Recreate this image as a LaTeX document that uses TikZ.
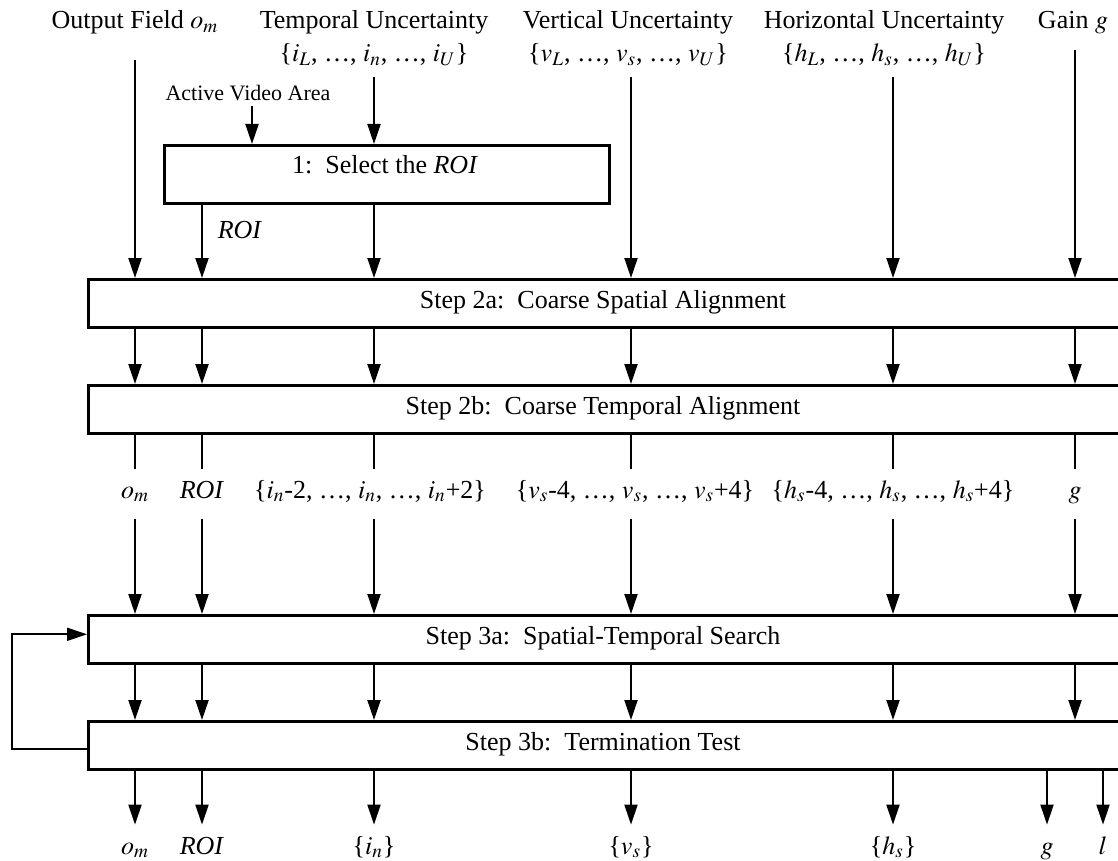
\documentclass[tikz,border=0pt]{standalone}
\usepackage{mathptmx}
\usepackage{fontspec}
\setmainfont{Liberation Serif}
\usetikzlibrary{arrows.meta}
\begin{document}
\begin{tikzpicture}[x=0.5pt,y=-0.5pt]
\tikzset{stepbox/.style={draw,line width=1.3pt,inner sep=0,anchor=north west}}
\tikzset{pfeil/.style={line width=1pt,-{Triangle[length=10pt,width=6.5pt]}}}
\tikzset{linie/.style={line width=1pt}}
\tikzset{txt/.style={font=\fontsize{13}{15}\selectfont,inner sep=0}}
\tikzset{toplbl/.style={txt,anchor=base}}
\tikzset{midlbl/.style={txt,anchor=base,text height=14.5pt,text depth=10.5pt}}
\tikzset{botlbl/.style={txt,anchor=base,text height=14.5pt}}
\clip (0,0) rectangle (1118,861);
% columns
\coordinate (cO) at (135,0);
\coordinate (cR) at (202,0);
\coordinate (cI) at (374,0);
\coordinate (cV) at (631,0);
\coordinate (cH) at (893,0);
\coordinate (cG) at (1075,0);
\coordinate (cA) at (252,0);
\coordinate (fb) at (12,0);
% inputs
\node [toplbl] (tO) at (135,29) {Output Field $o_m$};
\node [toplbl] (tI) at (374,29) {Temporal Uncertainty};
\node [toplbl] (tIset) at (374,62) {\{$i_L$, \ldots, $i_n$, \ldots, $i_U$\}};
\node [toplbl] (tV) at (628,29) {Vertical Uncertainty};
\node [toplbl] (tVset) at (628,62) {\{$v_L$, \ldots, $v_s$, \ldots, $v_U$\}};
\node [toplbl] (tH) at (884,29) {Horizontal Uncertainty};
\node [toplbl] (tHset) at (884,62) {\{$h_L$, \ldots, $h_s$, \ldots, $h_U$\}};
\node [toplbl] (tG) at (1073,29) {Gain $g$};
\node [font=\fontsize{11}{13}\selectfont,inner sep=0,anchor=base] (ava) at (248,101) {Active Video Area};
\coordinate (sO) at (135,60);
\coordinate (sI) at (374,77);
\coordinate (sV) at (631,77);
\coordinate (sH) at (893,77);
\coordinate (sG) at (1075,50);
% boxes
\node [stepbox,minimum width=222.5pt,minimum height=29pt] (s1) at (163,144) {};
\node [txt] (t1) at (385,165) {1:~~Select the \textit{ROI}};
\node [stepbox,minimum width=530pt,minimum height=24pt] (s2a) at (87,278) {};
\node [txt] (t2a) at (603,302) {Step 2a:~~Coarse Spatial Alignment};
\node [stepbox,minimum width=530pt,minimum height=24pt] (s2b) at (87,384) {};
\node [txt] (t2b) at (603,408) {Step 2b:~~Coarse Temporal Alignment};
\node [stepbox,minimum width=530pt,minimum height=24pt] (s3a) at (87,614) {};
\node [txt] (t3a) at (603,638) {Step 3a:~~Spatial-Temporal Search};
\node [stepbox,minimum width=530pt,minimum height=24pt] (s3b) at (87,720) {};
\node [txt] (t3b) at (603,744) {Step 3b:~~Termination Test};
\node [txt] (roi) at (240,230) {\textit{ROI}};
% intermediate values
\node [midlbl] (mO) at (135,498) {$o_m$};
\node [midlbl] (mR) at (202,498) {\textit{ROI}};
\node [midlbl] (mI) at (370,498) {\{$i_n$-2, \ldots, $i_n$, \ldots, $i_n$+2\}};
\node [midlbl] (mV) at (635,498) {\{$v_s$-4, \ldots, $v_s$, \ldots, $v_s$+4\}};
\node [midlbl] (mH) at (893,498) {\{$h_s$-4, \ldots, $h_s$, \ldots, $h_s$+4\}};
\node [midlbl] (mG) at (1075,498) {$g$};
% outputs
\node [botlbl] (bO) at (135,854) {$o_m$};
\node [botlbl] (bR) at (202,854) {\textit{ROI}};
\node [botlbl] (bI) at (374,854) {\{$i_n$\}};
\node [botlbl] (bV) at (631,854) {\{$v_s$\}};
\node [botlbl] (bH) at (893,854) {\{$h_s$\}};
\node [botlbl] (bG) at (1047,854) {$g$};
\node [botlbl] (bL) at (1103,854) {$l$};
% step 1
\draw[pfeil] (sI) -- (s1.north -| sI);
\draw[pfeil,shorten <=2pt] (ava.south -| cA) -- (s1.north -| cA);
\draw[pfeil] (s1.south -| cR) -- (s2a.north -| cR);
\draw[pfeil] (s1.south -| cI) -- (s2a.north -| cI);
% step 2
\foreach \s in {sO,sV,sH,sG}
  \draw[pfeil] (\s) -- (s2a.north -| \s);
\foreach \c in {cO,cR,cI,cV,cH,cG}
  \draw[pfeil] (s2a.south -| \c) -- (s2b.north -| \c);
\foreach \m/\c in {mO/cO,mR/cR,mI/cI,mV/cV,mH/cH,mG/cG} {
  \draw[linie] (s2b.south -| \c) -- (\m.north -| \c);
  \draw[pfeil] (\m.south -| \c) -- (s3a.north -| \c);
}
% step 3
\foreach \c in {cO,cR,cI,cV,cH,cG}
  \draw[pfeil] (s3a.south -| \c) -- (s3b.north -| \c);
\foreach \b in {bO,bR,bI,bV,bH,bG,bL}
  \draw[pfeil] (s3b.south -| \b) -- (\b.north);
\draw[pfeil] ([yshift=-2pt]s3b.west) -- ([yshift=-2pt]s3b.west -| fb) |- ([yshift=2.5pt]s3a.west);
\end{tikzpicture}
\end{document}
